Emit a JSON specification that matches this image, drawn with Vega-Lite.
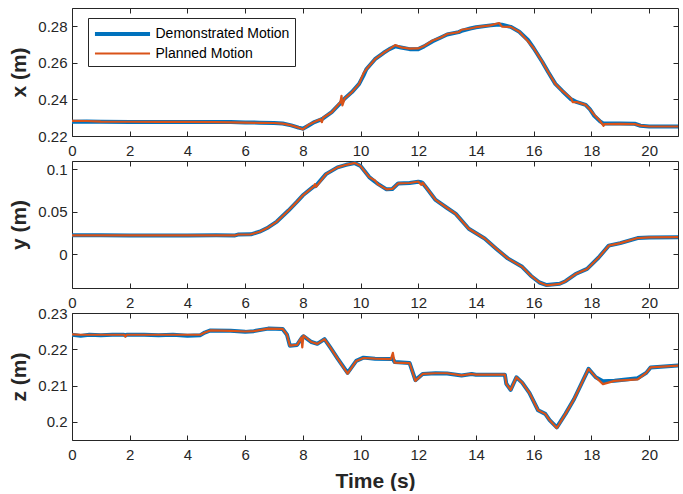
{
  "$schema": "https://vega.github.io/schema/vega-lite/v6.json",
  "padding": {"left": 8, "top": 7, "right": 7, "bottom": 0},
  "bounds": "flush",
  "spacing": 25,
  "config": {
    "font": "Liberation Sans",
    "view": {"stroke": null},
    "axis": {
      "grid": false,
      "domainColor": "#262626",
      "tickColor": "#262626",
      "labelColor": "#262626",
      "titleColor": "#262626",
      "labelFont": "Liberation Sans",
      "titleFont": "Liberation Sans",
      "labelFontSize": 15,
      "titleFontSize": 21,
      "titleFontWeight": "bold",
      "tickSize": -5,
      "tickWidth": 1,
      "domainWidth": 1,
      "labelFlush": false,
      "labelOverlap": false
    },
    "line": {"strokeJoin": "round", "strokeCap": "round"}
  },
  "resolve": {"scale": {"color": "independent", "strokeWidth": "independent"}},
  "datasets": {
    "px": [
      {"t":0,"demo":0.2278,"plan":0.2283},{"t":0.5,"demo":0.2279,"plan":0.2282},{"t":1,"demo":0.2278,"plan":0.2279},{"t":2,"demo":0.2277,"plan":0.2278},{"t":3,"demo":0.2277,"plan":0.2277},{"t":4,"demo":0.2277,"plan":0.2277},{"t":5,"demo":0.2276,"plan":0.2276},{"t":5.5,"demo":0.2276,"plan":0.2275},{"t":6,"demo":0.2274,"plan":0.2273},{"t":6.5,"demo":0.2273,"plan":0.2272},{"t":7,"demo":0.2271,"plan":0.2271},{"t":7.3,"demo":0.2268,"plan":0.2268},{"t":7.6,"demo":0.2258,"plan":0.2258},{"t":7.85,"demo":0.2246,"plan":0.2246},{"t":8.0,"demo":0.2240,"plan":0.2236},{"t":8.2,"demo":0.2258,"plan":0.2262},{"t":8.4,"demo":0.2276,"plan":0.2276},{"t":8.6,"demo":0.2288,"plan":0.2292},{"t":8.66,"demo":0.2292,"plan":0.2276},{"t":8.7,"demo":0.2296,"plan":0.2300},{"t":9.0,"demo":0.2330,"plan":0.2330},{"t":9.3,"demo":0.2380,"plan":0.2385},{"t":9.34,"demo":0.2388,"plan":0.2420},{"t":9.37,"demo":0.2391,"plan":0.2368},{"t":9.45,"demo":0.2405,"plan":0.2405},{"t":9.7,"demo":0.2440,"plan":0.2440},{"t":9.95,"demo":0.2485,"plan":0.2485},{"t":10.1,"demo":0.2530,"plan":0.2542},{"t":10.2,"demo":0.2565,"plan":0.2565},{"t":10.5,"demo":0.2620,"plan":0.2620},{"t":10.8,"demo":0.2655,"plan":0.2655},{"t":11.0,"demo":0.2675,"plan":0.2675},{"t":11.2,"demo":0.2690,"plan":0.2697},{"t":11.4,"demo":0.2684,"plan":0.2685},{"t":11.7,"demo":0.2675,"plan":0.2678},{"t":12.0,"demo":0.2675,"plan":0.2679},{"t":12.2,"demo":0.2690,"plan":0.2692},{"t":12.5,"demo":0.2718,"plan":0.2722},{"t":12.8,"demo":0.2740,"plan":0.2740},{"t":13.0,"demo":0.2755,"plan":0.2758},{"t":13.4,"demo":0.2768,"plan":0.2768},{"t":13.5,"demo":0.2775,"plan":0.2781},{"t":13.8,"demo":0.2788,"plan":0.2788},{"t":14.0,"demo":0.2795,"plan":0.2795},{"t":14.5,"demo":0.2805,"plan":0.2805},{"t":14.8,"demo":0.2810,"plan":0.2818},{"t":14.9,"demo":0.2808,"plan":0.2798},{"t":15.2,"demo":0.2797,"plan":0.2797},{"t":15.5,"demo":0.2770,"plan":0.2770},{"t":15.8,"demo":0.2725,"plan":0.2718},{"t":16.0,"demo":0.2680,"plan":0.2680},{"t":16.3,"demo":0.2605,"plan":0.2605},{"t":16.5,"demo":0.2550,"plan":0.2550},{"t":16.75,"demo":0.2485,"plan":0.2485},{"t":17.0,"demo":0.2445,"plan":0.2445},{"t":17.3,"demo":0.2400,"plan":0.2405},{"t":17.35,"demo":0.2397,"plan":0.2385},{"t":17.5,"demo":0.2385,"plan":0.2385},{"t":17.8,"demo":0.2370,"plan":0.2370},{"t":17.95,"demo":0.2345,"plan":0.2345},{"t":18.1,"demo":0.2310,"plan":0.2315},{"t":18.3,"demo":0.2280,"plan":0.2282},{"t":18.42,"demo":0.2268,"plan":0.2256},{"t":18.45,"demo":0.2268,"plan":0.2265},{"t":19.0,"demo":0.2268,"plan":0.2266},{"t":19.5,"demo":0.2267,"plan":0.2265},{"t":19.7,"demo":0.2256,"plan":0.2257},{"t":20,"demo":0.2252,"plan":0.2252},{"t":21,"demo":0.2252,"plan":0.2252}
    ],
    "py": [
      {"t":0,"demo":0.0222,"plan":0.0222},{"t":1,"demo":0.0222,"plan":0.0222},{"t":2,"demo":0.0221,"plan":0.0222},{"t":3,"demo":0.0221,"plan":0.0221},{"t":4,"demo":0.0221,"plan":0.0221},{"t":5,"demo":0.0222,"plan":0.0222},{"t":5.65,"demo":0.0221,"plan":0.0221},{"t":5.75,"demo":0.0231,"plan":0.0232},{"t":6.2,"demo":0.0234,"plan":0.0234},{"t":6.5,"demo":0.0265,"plan":0.0265},{"t":6.8,"demo":0.0315,"plan":0.0315},{"t":7.1,"demo":0.0385,"plan":0.0385},{"t":7.5,"demo":0.0515,"plan":0.0515},{"t":7.8,"demo":0.0620,"plan":0.0620},{"t":8.0,"demo":0.0695,"plan":0.0695},{"t":8.38,"demo":0.0800,"plan":0.0800},{"t":8.42,"demo":0.0802,"plan":0.0828},{"t":8.46,"demo":0.0810,"plan":0.0795},{"t":8.8,"demo":0.0945,"plan":0.0945},{"t":9.2,"demo":0.1025,"plan":0.1025},{"t":9.5,"demo":0.1055,"plan":0.1055},{"t":9.8,"demo":0.1075,"plan":0.1078},{"t":10.0,"demo":0.1040,"plan":0.1040},{"t":10.3,"demo":0.0910,"plan":0.0910},{"t":10.5,"demo":0.0855,"plan":0.0870},{"t":10.6,"demo":0.0830,"plan":0.0825},{"t":10.9,"demo":0.0765,"plan":0.0765},{"t":11.1,"demo":0.0770,"plan":0.0770},{"t":11.3,"demo":0.0835,"plan":0.0835},{"t":11.7,"demo":0.0840,"plan":0.0840},{"t":12.0,"demo":0.0855,"plan":0.0858},{"t":12.1,"demo":0.0850,"plan":0.0818},{"t":12.15,"demo":0.0840,"plan":0.0845},{"t":12.3,"demo":0.0775,"plan":0.0775},{"t":12.6,"demo":0.0640,"plan":0.0640},{"t":13.0,"demo":0.0545,"plan":0.0545},{"t":13.3,"demo":0.0475,"plan":0.0475},{"t":13.75,"demo":0.0300,"plan":0.0300},{"t":14.3,"demo":0.0185,"plan":0.0185},{"t":14.7,"demo":0.0065,"plan":0.0065},{"t":15.1,"demo":-0.0050,"plan":-0.0050},{"t":15.6,"demo":-0.0150,"plan":-0.0150},{"t":15.9,"demo":-0.0255,"plan":-0.0255},{"t":16.2,"demo":-0.0335,"plan":-0.0335},{"t":16.45,"demo":-0.0365,"plan":-0.0368},{"t":16.9,"demo":-0.0350,"plan":-0.0352},{"t":17.1,"demo":-0.0320,"plan":-0.0320},{"t":17.45,"demo":-0.0235,"plan":-0.0235},{"t":17.85,"demo":-0.0175,"plan":-0.0175},{"t":18.25,"demo":-0.0040,"plan":-0.0040},{"t":18.6,"demo":0.0100,"plan":0.0100},{"t":19.0,"demo":0.0130,"plan":0.0130},{"t":19.6,"demo":0.0190,"plan":0.0190},{"t":20,"demo":0.0197,"plan":0.0197},{"t":21,"demo":0.0200,"plan":0.0200}
    ],
    "pz": [
      {"t":0,"demo":0.2240,"plan":0.2241},{"t":0.3,"demo":0.2237,"plan":0.2240},{"t":0.6,"demo":0.2240,"plan":0.2240},{"t":1,"demo":0.2239,"plan":0.2240},{"t":1.4,"demo":0.2240,"plan":0.2240},{"t":1.8,"demo":0.2240,"plan":0.2240},{"t":1.85,"demo":0.2238,"plan":0.2235},{"t":1.9,"demo":0.2240,"plan":0.2240},{"t":2.5,"demo":0.2240,"plan":0.2240},{"t":3.0,"demo":0.2239,"plan":0.2240},{"t":3.5,"demo":0.2240,"plan":0.2240},{"t":4.0,"demo":0.2237,"plan":0.2240},{"t":4.45,"demo":0.2239,"plan":0.2240},{"t":4.6,"demo":0.2246,"plan":0.2246},{"t":4.8,"demo":0.2252,"plan":0.2252},{"t":5.5,"demo":0.2251,"plan":0.2251},{"t":6.0,"demo":0.2248,"plan":0.2249},{"t":6.3,"demo":0.2250,"plan":0.2250},{"t":6.8,"demo":0.2257,"plan":0.2257},{"t":7.3,"demo":0.2256,"plan":0.2256},{"t":7.45,"demo":0.2240,"plan":0.2240},{"t":7.55,"demo":0.2210,"plan":0.2210},{"t":7.8,"demo":0.2212,"plan":0.2212},{"t":7.95,"demo":0.2230,"plan":0.2232},{"t":7.98,"demo":0.2233,"plan":0.2205},{"t":8.02,"demo":0.2236,"plan":0.2238},{"t":8.3,"demo":0.2220,"plan":0.2220},{"t":8.5,"demo":0.2215,"plan":0.2215},{"t":8.75,"demo":0.2228,"plan":0.2228},{"t":8.95,"demo":0.2205,"plan":0.2205},{"t":9.2,"demo":0.2175,"plan":0.2175},{"t":9.55,"demo":0.2135,"plan":0.2133},{"t":9.85,"demo":0.2168,"plan":0.2168},{"t":10.1,"demo":0.2177,"plan":0.2176},{"t":10.5,"demo":0.2174,"plan":0.2174},{"t":11.05,"demo":0.2173,"plan":0.2173},{"t":11.12,"demo":0.2174,"plan":0.2190},{"t":11.18,"demo":0.2165,"plan":0.2163},{"t":11.7,"demo":0.2162,"plan":0.2162},{"t":11.9,"demo":0.2115,"plan":0.2113},{"t":12.15,"demo":0.2132,"plan":0.2132},{"t":12.6,"demo":0.2134,"plan":0.2134},{"t":13.0,"demo":0.2133,"plan":0.2134},{"t":13.5,"demo":0.2128,"plan":0.2128},{"t":13.85,"demo":0.2132,"plan":0.2132},{"t":14.0,"demo":0.2130,"plan":0.2130},{"t":15.0,"demo":0.2130,"plan":0.2130},{"t":15.05,"demo":0.2105,"plan":0.2105},{"t":15.2,"demo":0.2088,"plan":0.2088},{"t":15.4,"demo":0.2123,"plan":0.2123},{"t":15.6,"demo":0.2108,"plan":0.2108},{"t":15.85,"demo":0.2080,"plan":0.2080},{"t":16.15,"demo":0.2032,"plan":0.2032},{"t":16.4,"demo":0.2022,"plan":0.2022},{"t":16.55,"demo":0.2005,"plan":0.2005},{"t":16.8,"demo":0.1985,"plan":0.1983},{"t":17.1,"demo":0.2022,"plan":0.2022},{"t":17.4,"demo":0.2063,"plan":0.2063},{"t":17.9,"demo":0.2146,"plan":0.2146},{"t":18.15,"demo":0.2123,"plan":0.2123},{"t":18.4,"demo":0.2112,"plan":0.2104},{"t":18.8,"demo":0.2113,"plan":0.2113},{"t":19.6,"demo":0.2120,"plan":0.2117},{"t":19.9,"demo":0.2135,"plan":0.2135},{"t":20.05,"demo":0.2150,"plan":0.2150},{"t":21,"demo":0.2155,"plan":0.2155}
    ]
  },
  "vconcat": [
    {
      "width": 606, "height": 128,
      "data": {"name": "px"},
      "transform": [{"fold": ["demo", "plan"], "as": ["series", "v"]}],
      "layer": [
        {
          "mark": {"type": "line", "clip": true},
          "encoding": {
            "x": {"field": "t", "type": "quantitative", "scale": {"domain": [0, 21], "nice": false, "zero": false},
                  "axis": {"orient": "bottom", "values": [0,2,4,6,8,10,12,14,16,18,20], "title": null, "labelPadding": 12}},
            "y": {"field": "v", "type": "quantitative", "scale": {"domain": [0.22, 0.29], "nice": false, "zero": false},
                  "axis": {"orient": "left", "values": [0.22,0.24,0.26,0.28], "format": "~g", "title": "x (m)", "titleX": -53, "titleBaseline": "middle", "labelPadding": 10}},
            "color": {"field": "series", "type": "nominal", "scale": {"domain": ["demo", "plan"], "range": ["#0072BD", "#D95319"]},
                      "legend": {"orient": "none", "legendX": 16, "legendY": 10, "title": null,
                                 "symbolType": "M-3.06,0H3.06", "symbolSize": 324, "symbolOffset": 18.5,
                                 "labelExpr": "datum.value == 'demo' ? 'Demonstrated Motion' : 'Planned Motion'",
                                 "labelFontSize": 14, "labelFont": "Liberation Sans", "labelColor": "#000000", "labelOffset": 22,
                                 "strokeColor": "#262626", "fillColor": "#ffffff", "padding": 5, "rowPadding": 2}},
            "strokeWidth": {"field": "series", "type": "nominal", "scale": {"domain": ["demo", "plan"], "range": [4, 2.2]}}
          }
        },
        {
          "mark": {"type": "line", "opacity": 0},
          "encoding": {
            "x": {"field": "t", "type": "quantitative", "axis": {"orient": "top", "values": [0,2,4,6,8,10,12,14,16,18,20], "labels": false, "title": null}},
            "y": {"field": "v", "type": "quantitative", "axis": {"orient": "right", "values": [0.22,0.24,0.26,0.28], "labels": false, "title": null}},
            "detail": {"field": "series"}
          }
        }
      ],
      "resolve": {"axis": {"x": "independent", "y": "independent"}}
    },
    {
      "width": 606, "height": 127,
      "data": {"name": "py"},
      "transform": [{"fold": ["demo", "plan"], "as": ["series", "v"]}],
      "layer": [
        {
          "mark": {"type": "line", "clip": true},
          "encoding": {
            "x": {"field": "t", "type": "quantitative", "scale": {"domain": [0, 21], "nice": false, "zero": false},
                  "axis": {"orient": "bottom", "values": [0,2,4,6,8,10,12,14,16,18,20], "title": null, "labelPadding": 12}},
            "y": {"field": "v", "type": "quantitative", "scale": {"domain": [-0.04, 0.11], "nice": false, "zero": false},
                  "axis": {"orient": "left", "values": [0,0.05,0.1], "format": "~g", "title": "y (m)", "titleX": -53, "titleBaseline": "middle", "labelPadding": 10}},
            "color": {"field": "series", "type": "nominal", "scale": {"domain": ["demo", "plan"], "range": ["#0072BD", "#D95319"]}, "legend": null},
            "strokeWidth": {"field": "series", "type": "nominal", "scale": {"domain": ["demo", "plan"], "range": [4, 2.2]}, "legend": null}
          }
        },
        {
          "mark": {"type": "line", "opacity": 0},
          "encoding": {
            "x": {"field": "t", "type": "quantitative", "axis": {"orient": "top", "values": [0,2,4,6,8,10,12,14,16,18,20], "labels": false, "title": null}},
            "y": {"field": "v", "type": "quantitative", "axis": {"orient": "right", "values": [0,0.05,0.1], "labels": false, "title": null}},
            "detail": {"field": "series"}
          }
        }
      ],
      "resolve": {"axis": {"x": "independent", "y": "independent"}}
    },
    {
      "width": 606, "height": 127,
      "data": {"name": "pz"},
      "transform": [{"fold": ["demo", "plan"], "as": ["series", "v"]}],
      "layer": [
        {
          "mark": {"type": "line", "clip": true},
          "encoding": {
            "x": {"field": "t", "type": "quantitative", "scale": {"domain": [0, 21], "nice": false, "zero": false},
                  "axis": {"orient": "bottom", "values": [0,2,4,6,8,10,12,14,16,18,20], "title": "Time (s)", "titleY": 47, "titleBaseline": "alphabetic", "labelPadding": 12}},
            "y": {"field": "v", "type": "quantitative", "scale": {"domain": [0.195, 0.23], "nice": false, "zero": false},
                  "axis": {"orient": "left", "values": [0.2,0.21,0.22,0.23], "format": "~g", "title": "z (m)", "titleX": -53, "titleBaseline": "middle", "labelPadding": 10}},
            "color": {"field": "series", "type": "nominal", "scale": {"domain": ["demo", "plan"], "range": ["#0072BD", "#D95319"]}, "legend": null},
            "strokeWidth": {"field": "series", "type": "nominal", "scale": {"domain": ["demo", "plan"], "range": [4, 2.2]}, "legend": null}
          }
        },
        {
          "mark": {"type": "line", "opacity": 0},
          "encoding": {
            "x": {"field": "t", "type": "quantitative", "axis": {"orient": "top", "values": [0,2,4,6,8,10,12,14,16,18,20], "labels": false, "title": null}},
            "y": {"field": "v", "type": "quantitative", "axis": {"orient": "right", "values": [0.2,0.21,0.22,0.23], "labels": false, "title": null}},
            "detail": {"field": "series"}
          }
        }
      ],
      "resolve": {"axis": {"x": "independent", "y": "independent"}}
    }
  ]
}
